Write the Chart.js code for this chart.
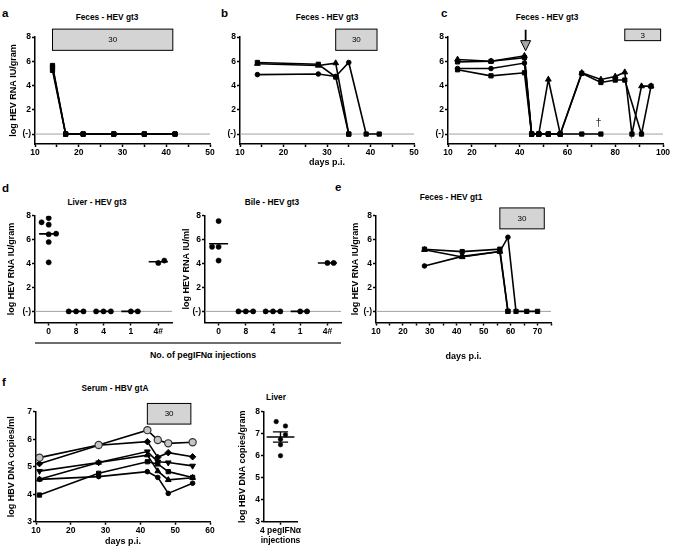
<!DOCTYPE html>
<html>
<head>
<meta charset="utf-8">
<title>pegIFN HEV / HBV</title>
<script src="https://cdn.jsdelivr.net/npm/chart.js@4.4.1/dist/chart.umd.min.js"></script>
<style>
  body { margin: 0; background: #fff; }
  #fig { position: relative; width: 675px; height: 551px; overflow: hidden;
         font-family: "Liberation Sans", Arial, sans-serif; color: #000; }
  #fig canvas { position: absolute; }
  .t { position: absolute; transform: translate(-50%, -50%); font-weight: bold; font-size: 8.3px; white-space: nowrap; }
  .letter { position: absolute; transform: translateY(-50%); font-weight: bold; font-size: 11.5px; }
  #injBar { position: absolute; left: 35px; top: 341.5px; width: 306px; height: 2.5px; background: #6e6e6e; }
</style>
</head>
<body>
<div id="fig">
  <div class="letter" style="left:2px;top:13px">a</div>
  <div class="letter" style="left:221px;top:13px">b</div>
  <div class="letter" style="left:441px;top:13px">c</div>
  <div class="letter" style="left:2px;top:188px">d</div>
  <div class="letter" style="left:335px;top:187px">e</div>
  <div class="letter" style="left:2px;top:382px">f</div>

  <div class="t" style="left:107px;top:17px">Feces - HEV gt3</div>
  <div class="t" style="left:327px;top:17px">Feces - HEV gt3</div>
  <div class="t" style="left:547px;top:17px">Feces - HEV gt3</div>
  <div class="t" style="left:97px;top:202px">Liver - HEV gt3</div>
  <div class="t" style="left:272px;top:202px">Bile - HEV gt3</div>
  <div class="t" style="left:451px;top:197px">Feces - HEV gt1</div>
  <div class="t" style="left:115px;top:388px">Serum - HBV gtA</div>
  <div class="t" style="left:276px;top:397px">Liver</div>

  <div id="injBar"></div>
  <div class="t" style="left:203px;top:355px;font-size:8.8px">No. of pegIFNα injections</div>
</div>
<script>
// ---- data (log values, (-) = 0) ----
// a: feces HEV gt3
const aDays = [14, 17, 21, 28, 35, 42];
const aMouse1 = [5.65, 0, 0, 0, 0, 0];
const aMouse2 = [5.5, 0, 0, 0, 0, 0];
const aMouse3 = [5.25, 0, 0, 0, 0, 0];

// b: feces HEV gt3
const bDays12 = [14, 28, 32, 35];
const bMouse1 = [5.9, 5.75, 4.7, 0];
const bMouse2 = [5.8, 5.65, 5.85, 0];
const bDays3 = [14, 28, 32, 35, 39, 42];
const bMouse3 = [4.9, 4.95, 4.75, 5.9, 0, 0];

// c: feces HEV gt3, long follow up
const cDaysA = [14, 28, 42, 45, 48, 52, 57, 66, 74, 80, 84, 87, 91, 95];
const cMouseA = [6.15, 6.0, 6.45, 0, 0, 4.5, 0, 5.05, 4.5, 4.75, 5.1, 0, 3.95, 3.95];
const cDaysB = [14, 28, 42, 45, 48, 52, 57, 66, 74, 80, 84, 91, 95];
const cMouseB = [5.95, 6.0, 6.3, 0, 0, 0, 0, 5.0, 4.25, 4.45, 4.45, 0, 3.95];
const cDaysC = [14, 28, 42, 45, 48, 52, 57];
const cMouseC = [5.4, 5.4, 5.85, 0, 0, 0, 0];
const cDaysD = [14, 28, 42, 45, 48, 52, 57, 66, 74];
const cMouseD = [5.3, 4.8, 5.05, 0, 0, 0, 0, 0, 0];

// d: liver and bile by number of injections
const injCats = ['0', '8', '4', '1', '4#'];
const liverVals = [[7.45, 7.8, 7.25, 6.5, 6.45, 5.8, 4.1], [0, 0, 0], [0, 0, 0], [0, 0], [4.05, 4.25]];
const liverJit = [[-0.26, 0, 0, 0.27, 0, 0, 0], [-0.27, 0, 0.27], [-0.27, 0, 0.27], [0, 0.25], [0, 0.22]];
const bileVals = [[7.55, 5.4, 5.4, 4.25], [0, 0, 0], [0, 0, 0], [0, 0], [4.05, 4.05]];
const bileJit = [[0, -0.24, 0, 0], [-0.27, 0, 0.27], [-0.27, 0, 0.27], [0, 0.25], [0, 0.23]];

// e: feces HEV gt1
const eDays12 = [28, 42, 56, 59];
const eMouse1 = [5.2, 5.0, 5.2, 0];
const eMouse2 = [5.15, 4.55, 5.0, 0];
const eDays3 = [28, 42, 56, 59, 62, 66, 70];
const eMouse3 = [3.8, 4.6, 5.0, 6.2, 0, 0, 0];

// f: serum HBV gtA
const fDays = [11, 28, 42, 45, 48, 55];
const fOpen = [5.33, 5.79, 6.33, 5.97, 5.85, 5.89];
const fDiamond = [5.11, 5.78, 5.91, 5.34, 5.51, 5.36];
const fDown = [4.84, 5.15, 5.55, 5.18, 5.15, 5.03];
const fUp = [4.54, 5.15, 5.42, 4.84, 4.52, 4.6];
const fSquare = [3.97, 4.76, 5.18, 5.1, 4.82, 4.61];
const fCircle = [4.54, 4.64, 4.82, 4.61, 4.03, 4.4];
// f: liver HBV after 4 injections
const hbvLiver = [7.55, 7.35, 6.95, 6.75, 6.5, 6.0];
const hbvLiverJit = [-0.13, 0.15, 0.15, 0, 0, 0];

// tick labels
const abTicks = [10, 20, 30, 40, 50];
const cTicks = [10, 20, 40, 60, 80, 100];
const eTicks = [10, 20, 30, 40, 50, 60, 70];
const fTicks = [10, 20, 30, 40, 50, 60];
const hevYTicks = [0, 2, 4, 6, 8];
const fYTicks = [3, 4, 5, 6, 7];
const fLiverYTicks = [3, 4, 5, 6, 7, 8];
const fLiverCat = ['4 pegIFNα', 'injections'];

// ---- helpers ----
Chart.defaults.font.family = '"Liberation Sans", Arial, sans-serif';
Chart.defaults.font.size = 8.5;
Chart.defaults.font.weight = 'bold';
Chart.defaults.color = '#000';

const fig = document.getElementById('fig');
const pts = (xs, ys) => xs.map((x, i) => ({x: x, y: ys[i]}));
const mean = a => a.reduce((s, v) => s + v, 0) / a.length;
const hevY = v => v === 0 ? '(-)' : String(v);
const titleFont = {size: 9, weight: 'bold'};

// box = canvas [l,t,r,b], area = wanted chart area [l,t,r,b]
function frame(box, area) {
  const cv = document.createElement('canvas');
  cv.width = box[2] - box[0];
  cv.height = box[3] - box[1];
  cv.style.left = box[0] + 'px';
  cv.style.top = box[1] + 'px';
  fig.appendChild(cv);
  return {
    canvas: cv,
    padding: {left: 0, top: area[1] - box[1], right: box[2] - area[2], bottom: 0},
    yWidth: area[0] - box[0],
    xHeight: box[3] - area[3]
  };
}

const axisLine = {color: '#000', width: 1.5};
const tickMarks = {drawOnChartArea: false, drawTicks: true, tickLength: 3, tickColor: '#000', tickWidth: 1.5};

function axisX(g, min, max, step, labels, title, pad) {
  return {
    type: 'linear', min: min, max: max,
    afterFit: s => { s.height = g.xHeight; },
    border: axisLine, grid: tickMarks,
    ticks: {stepSize: step, autoSkip: false, maxRotation: 0, padding: 1,
            callback: v => labels.includes(v) ? String(v) : ''},
    title: title ? {display: true, text: title, font: titleFont, padding: {top: 0, bottom: pad}} : {display: false}
  };
}

function axisCat(g, min, max, cats) {
  return {
    type: 'linear', min: min, max: max,
    afterFit: s => { s.height = g.xHeight; },
    afterBuildTicks: s => { s.ticks = cats.map((c, i) => ({value: i})); },
    border: axisLine, grid: tickMarks,
    ticks: {autoSkip: false, maxRotation: 0, padding: 1, callback: (v, i) => cats[i]}
  };
}

function axisY(g, min, max, ticks, fmt, title, pad) {
  return {
    type: 'linear', min: min, max: max,
    afterFit: s => { s.width = g.yWidth; },
    afterBuildTicks: s => { s.ticks = ticks.map(v => ({value: v})); },
    border: axisLine, grid: tickMarks,
    ticks: {autoSkip: false, padding: 1, callback: fmt},
    title: title ? {display: true, text: title, font: titleFont, padding: {top: pad, bottom: 0}} : {display: false}
  };
}

function opts(g, x, y) {
  return {
    responsive: false, animation: false, devicePixelRatio: 1,
    layout: {padding: g.padding},
    plugins: {legend: {display: false}, tooltip: {enabled: false}},
    scales: {x: x, y: y}
  };
}

const R = {rect: 3, circle: 2.3, triangle: 3.3, rectRot: 3.2};
function series(xs, ys, style, extra) {
  const st = c => (c.raw && c.raw.y === 0) ? 'rect' : style;
  return Object.assign({
    data: pts(xs, ys),
    borderColor: '#000', borderWidth: 1.6, backgroundColor: '#000',
    pointBackgroundColor: '#000', pointBorderColor: '#000', pointBorderWidth: 1,
    pointStyle: st, pointRadius: c => R[st(c)], tension: 0
  }, extra || {});
}

// dot plot with a mean bar per group
function dotSets(vals, jit) {
  const sets = [{
    type: 'scatter',
    data: vals.flatMap((vs, i) => vs.map((v, j) => ({x: i + jit[i][j], y: v}))),
    pointRadius: 2.6, pointBackgroundColor: '#000', pointBorderColor: '#000', pointBorderWidth: 0.5
  }];
  vals.forEach((vs, i) => {
    const m = mean(vs);
    sets.push({type: 'line', data: [{x: i - 0.35, y: m}, {x: i + 0.35, y: m}],
               borderColor: '#000', borderWidth: 1.6, pointRadius: 0});
  });
  return sets;
}

// zero line, treatment box, arrow and dagger drawn on the scales
function extras(cfg) {
  return {
    id: 'extras',
    beforeDatasetsDraw(chart) {
      if (!cfg.zero) return;
      const {ctx, chartArea: a, scales: {y}} = chart;
      const py = y.getPixelForValue(0);
      ctx.save();
      ctx.strokeStyle = '#a0a0a0';
      ctx.lineWidth = 1;
      ctx.beginPath(); ctx.moveTo(a.left, py); ctx.lineTo(a.right, py); ctx.stroke();
      ctx.restore();
    },
    afterDraw(chart) {
      const {ctx, scales: {x, y}} = chart;
      ctx.save();
      if (cfg.box) {
        const b = cfg.box;
        const x1 = x.getPixelForValue(b.from), x2 = x.getPixelForValue(b.to);
        const y1 = y.getPixelForValue(b.top), y2 = y.getPixelForValue(b.bottom);
        ctx.fillStyle = '#d4d4d4';
        ctx.fillRect(x1, y1, x2 - x1, y2 - y1);
        ctx.strokeStyle = '#000'; ctx.lineWidth = 1;
        ctx.strokeRect(x1, y1, x2 - x1, y2 - y1);
        ctx.fillStyle = '#000';
        ctx.font = '8px "Liberation Sans", Arial, sans-serif';
        ctx.textAlign = 'center'; ctx.textBaseline = 'middle';
        ctx.fillText(b.label, (x1 + x2) / 2, (y1 + y2) / 2 + 0.5);
      }
      if (cfg.arrow) {
        const ar = cfg.arrow;
        const px = x.getPixelForValue(ar.x);
        const yTop = y.getPixelForValue(ar.top), yNeck = y.getPixelForValue(ar.neck), yTip = y.getPixelForValue(ar.tip);
        ctx.strokeStyle = '#000'; ctx.lineWidth = 1.8;
        ctx.beginPath(); ctx.moveTo(px, yTop); ctx.lineTo(px, yNeck); ctx.stroke();
        ctx.beginPath(); ctx.moveTo(px - 5, yNeck); ctx.lineTo(px + 5, yNeck); ctx.lineTo(px, yTip); ctx.closePath();
        ctx.fillStyle = '#a8a8a8'; ctx.fill();
        ctx.lineWidth = 1; ctx.stroke();
      }
      if (cfg.dagger) {
        const d = cfg.dagger;
        ctx.fillStyle = '#333';
        ctx.font = '11px "Liberation Sans", Arial, sans-serif';
        ctx.textAlign = 'center'; ctx.textBaseline = 'middle';
        ctx.fillText(d.text, x.getPixelForValue(d.x), y.getPixelForValue(d.y));
      }
      ctx.restore();
    }
  };
}

// ---- a ----
const gA = frame([0, 22, 222, 162], [35, 37, 210, 144]);
new Chart(gA.canvas, {
  type: 'line',
  data: {datasets: [
    series(aDays, aMouse1, 'rect'),
    series(aDays, aMouse2, 'rect'),
    series(aDays, aMouse3, 'rect')]},
  options: opts(gA, axisX(gA, 10, 50, 5, abTicks),
                axisY(gA, -0.82, 8, hevYTicks, hevY, 'log HEV RNA IU/gram', 8)),
  plugins: [extras({zero: true, box: {from: 14, to: 41.5, top: 8.65, bottom: 6.9, label: '30'}})]
});

// ---- b ----
const gB = frame([222, 22, 436, 170], [240, 37, 414, 144]);
new Chart(gB.canvas, {
  type: 'line',
  data: {datasets: [
    series(bDays12, bMouse1, 'rect'),
    series(bDays12, bMouse2, 'triangle'),
    series(bDays3, bMouse3, 'circle')]},
  options: opts(gB, axisX(gB, 10, 50, 5, abTicks, 'days p.i.', 2),
                axisY(gB, -0.82, 8, hevYTicks, hevY)),
  plugins: [extras({zero: true, box: {from: 32, to: 41.5, top: 8.65, bottom: 6.9, label: '30'}})]
});

// ---- c ----
const gC = frame([430, 22, 675, 162], [448, 37, 663, 144]);
new Chart(gC.canvas, {
  type: 'line',
  data: {datasets: [
    series(cDaysA, cMouseA, 'triangle'),
    series(cDaysB, cMouseB, 'rect'),
    series(cDaysC, cMouseC, 'circle'),
    series(cDaysD, cMouseD, 'rect')]},
  options: opts(gC, axisX(gC, 10, 100, 10, cTicks),
                axisY(gC, -0.82, 8, hevYTicks, hevY)),
  plugins: [extras({zero: true,
                    box: {from: 84, to: 99, top: 8.65, bottom: 7.7, label: '3'},
                    arrow: {x: 42.5, top: 8.6, neck: 7.7, tip: 6.87},
                    dagger: {x: 73, y: 0.95, text: '†'}})]
});

// ---- d liver ----
const gDL = frame([0, 205, 180, 340], [35, 215.7, 172, 322.5]);
new Chart(gDL.canvas, {
  type: 'scatter',
  data: {datasets: dotSets(liverVals, liverJit)},
  options: opts(gDL, axisCat(gDL, -0.5, 4.5, injCats),
                axisY(gDL, -0.93, 8, hevYTicks, hevY, 'log HEV RNA IU/gram', 6)),
  plugins: [extras({zero: true})]
});

// ---- d bile ----
const gDB = frame([180, 205, 350, 340], [205, 215.7, 341, 322.5]);
new Chart(gDB.canvas, {
  type: 'scatter',
  data: {datasets: dotSets(bileVals, bileJit)},
  options: opts(gDB, axisCat(gDB, -0.5, 4.5, injCats),
                axisY(gDB, -0.93, 8, hevYTicks, hevY, 'log HEV RNA IU/ml', 1.5)),
  plugins: [extras({zero: true})]
});

// ---- e ----
const gE = frame([350, 205, 565, 365], [376, 215.7, 551, 322.5]);
new Chart(gE.canvas, {
  type: 'line',
  data: {datasets: [
    series(eDays12, eMouse1, 'rect'),
    series(eDays12, eMouse2, 'triangle'),
    series(eDays3, eMouse3, 'circle')]},
  options: opts(gE, axisX(gE, 10, 75, 5, eTicks, 'days p.i.', 2.6),
                axisY(gE, -0.93, 8, hevYTicks, hevY, 'log HEV RNA IU/gram', 0)),
  plugins: [extras({zero: true, box: {from: 56, to: 72.5, top: 8.65, bottom: 6.9, label: '30'}})]
});

// ---- f serum ----
const gFS = frame([0, 400, 222, 551], [36, 411.7, 210, 521.7]);
new Chart(gFS.canvas, {
  type: 'line',
  data: {datasets: [
    series(fDays, fOpen, 'circle', {pointBackgroundColor: '#c4c4c4', pointBorderColor: '#333', pointBorderWidth: 1.2, pointRadius: 3.6}),
    series(fDays, fDiamond, 'rectRot'),
    series(fDays, fDown, 'triangle', {pointRotation: 180}),
    series(fDays, fUp, 'triangle'),
    series(fDays, fSquare, 'rect'),
    series(fDays, fCircle, 'circle')]},
  options: opts(gFS, axisX(gFS, 10, 60, 10, fTicks, 'days p.i.', 3.8),
                axisY(gFS, 3, 7, fYTicks, v => String(v), 'log HBV DNA copies/ml', 6.5)),
  plugins: [extras({box: {from: 42, to: 54.5, top: 7.3, bottom: 6.55, label: '30'}})]
});

// ---- f liver ----
const liverMean = mean(hbvLiver);
const liverSem = Math.sqrt(hbvLiver.reduce((s, v) => s + (v - liverMean) ** 2, 0) / (hbvLiver.length - 1)) / Math.sqrt(hbvLiver.length);
const bar = (data, w) => ({type: 'line', data: data, borderColor: '#000', borderWidth: w, pointRadius: 0});
const gFL = frame([225, 400, 320, 551], [264, 411.7, 297, 521.7]);
new Chart(gFL.canvas, {
  type: 'scatter',
  data: {datasets: [
    {type: 'scatter', data: hbvLiver.map((v, i) => ({x: hbvLiverJit[i], y: v})),
     pointRadius: 2.3, pointBackgroundColor: '#000', pointBorderColor: '#000', pointBorderWidth: 0.5},
    bar([{x: -0.42, y: liverMean}, {x: 0.42, y: liverMean}], 1.6),
    bar([{x: 0, y: liverMean - liverSem}, {x: 0, y: liverMean + liverSem}], 1.4),
    bar([{x: -0.23, y: liverMean + liverSem}, {x: 0.23, y: liverMean + liverSem}], 1.4),
    bar([{x: -0.23, y: liverMean - liverSem}, {x: 0.23, y: liverMean - liverSem}], 1.4)]},
  options: opts(gFL, axisCat(gFL, -0.5, 0.5, [fLiverCat]),
                axisY(gFL, 3, 8, fLiverYTicks, v => String(v), 'log HBV DNA copies/gram', 12.5)),
  plugins: []
});
</script>
</body>
</html>
